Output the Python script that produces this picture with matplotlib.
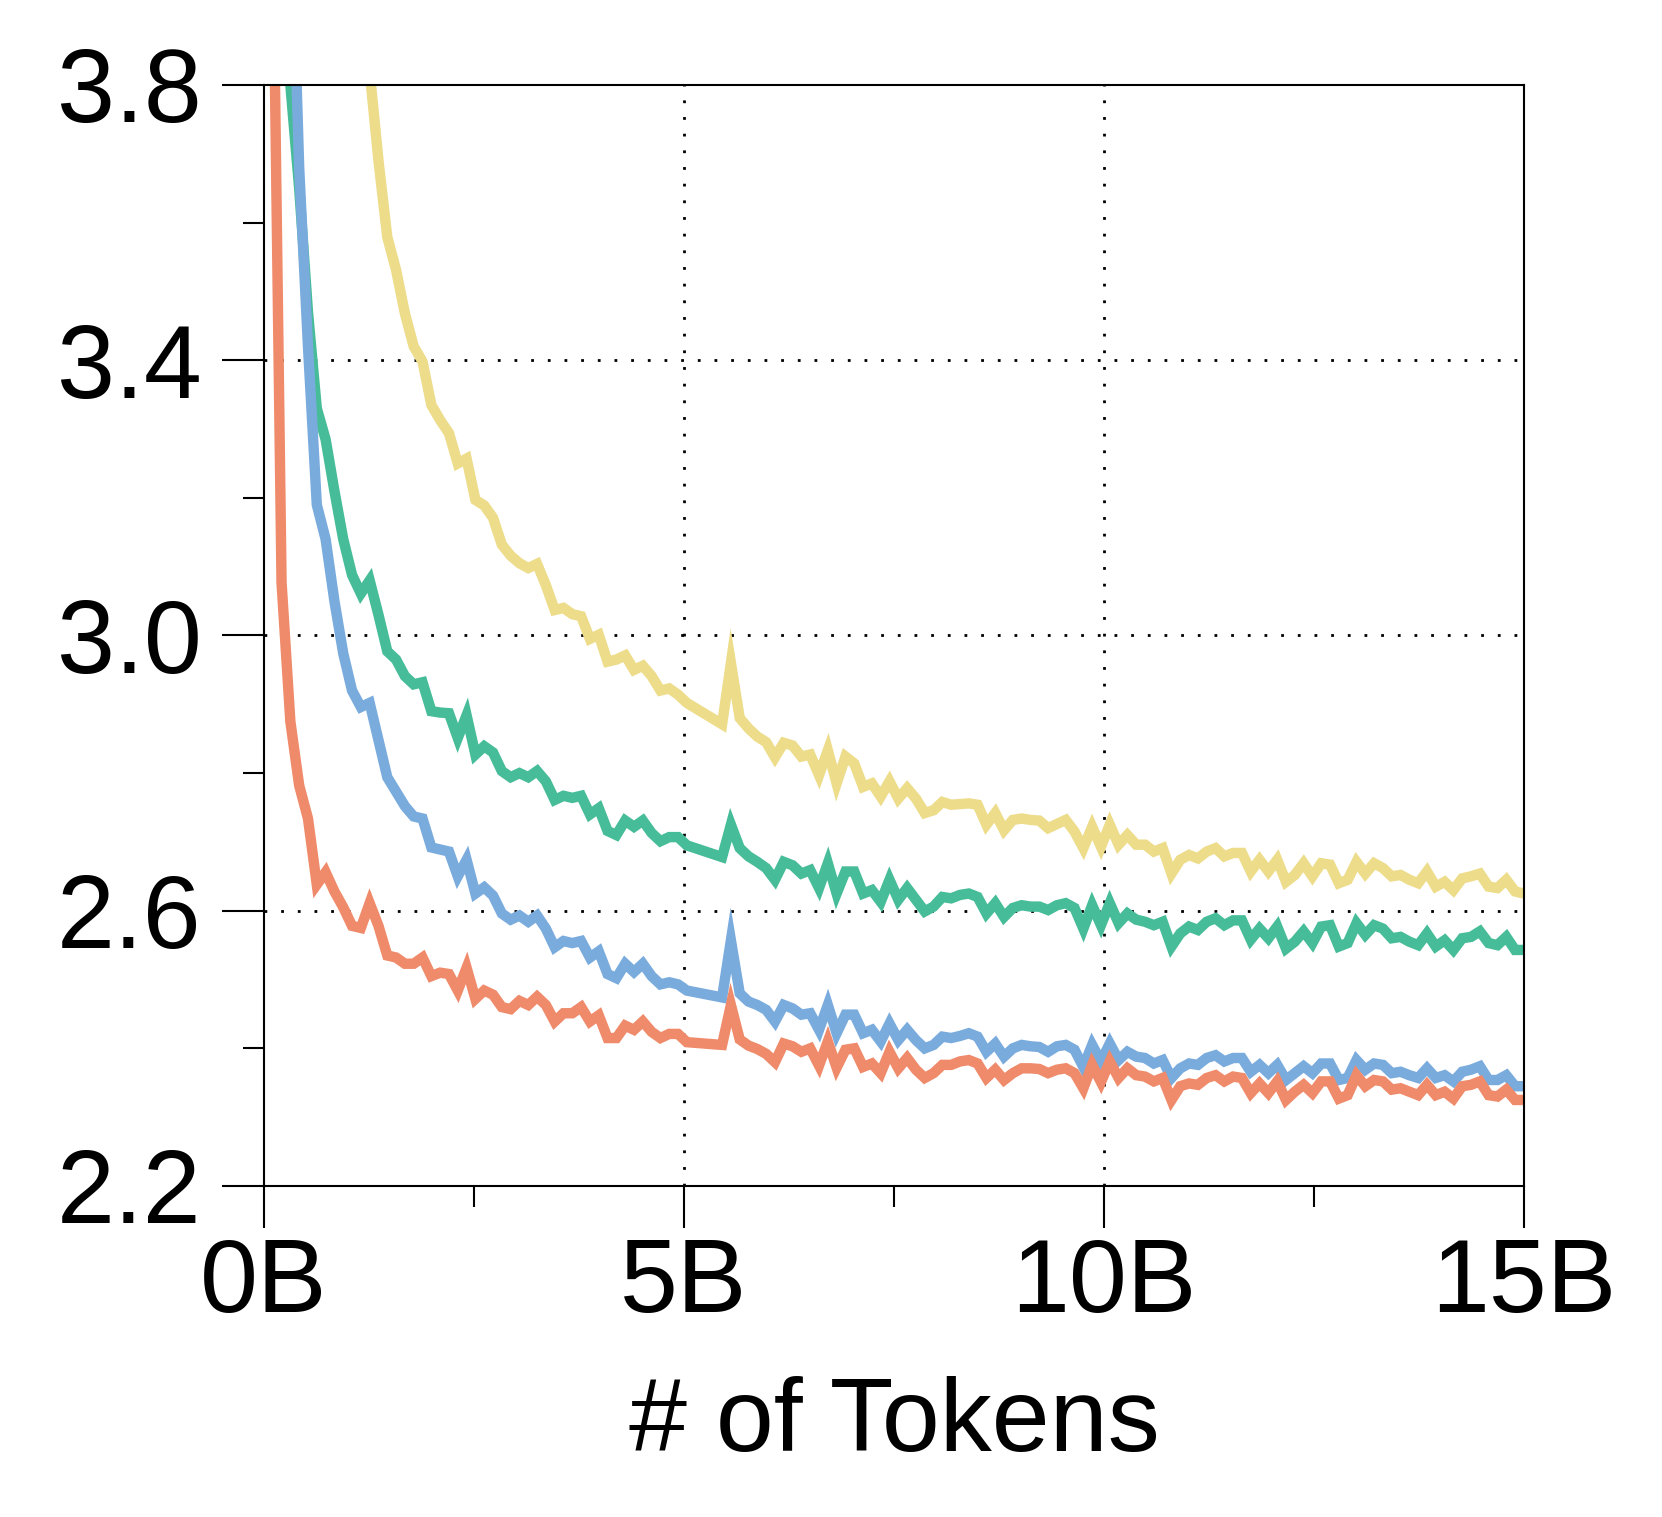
import numpy as np
import matplotlib.pyplot as plt

plt.rcParams['font.family'] = ['Liberation Sans', 'DejaVu Sans']

nan = np.nan

# checkpoint index -> tokens (B); checkpoints 49-51 are missing in the run
step = np.r_[1:49, 52:144]
tokens = step * 15 / 143

loss_yellow = [nan] * 11 + [
    3.82, 3.69, 3.579, 3.531, 3.468, 3.42, 3.398, 3.335, 3.313, 3.294,
    3.25, 3.257, 3.197, 3.189, 3.171, 3.132, 3.116, 3.105, 3.098, 3.104,
    3.073, 3.037, 3.04, 3.031, 3.028, 2.995, 3.001, 2.962, 2.965, 2.971,
    2.95, 2.956, 2.941, 2.92, 2.923, 2.914, 2.902,
    2.871, 2.96, 2.88, 2.865, 2.853, 2.845, 2.823, 2.844, 2.84, 2.824,
    2.827, 2.797, 2.833, 2.785, 2.824, 2.814, 2.78, 2.785, 2.766, 2.788,
    2.763, 2.778, 2.763, 2.742, 2.746, 2.758, 2.754, 2.755, 2.756, 2.754,
    2.725, 2.742, 2.717, 2.732, 2.734, 2.732, 2.731, 2.72, 2.726, 2.732,
    2.715, 2.691, 2.722, 2.693,
    2.725, 2.696, 2.71, 2.696, 2.696, 2.686, 2.691, 2.654, 2.674, 2.681,
    2.676, 2.686, 2.691, 2.679, 2.684, 2.684, 2.657, 2.674, 2.657, 2.674,
    2.642, 2.652, 2.669, 2.65, 2.669, 2.667, 2.64, 2.645, 2.671, 2.654,
    2.669, 2.662, 2.65, 2.652, 2.645, 2.64, 2.657, 2.635, 2.642, 2.63,
    2.647, 2.65, 2.654, 2.635, 2.633, 2.645, 2.628, 2.625]

loss_green = [
    nan, 4.3, 3.8, 3.65, 3.47, 3.33, 3.285, 3.21, 3.14, 3.088,
    3.061, 3.08, 3.03, 2.977, 2.965, 2.941, 2.929, 2.932, 2.89, 2.888,
    2.887, 2.851, 2.884, 2.827, 2.839, 2.83, 2.803, 2.794, 2.8, 2.794,
    2.803, 2.788, 2.761, 2.767, 2.764, 2.767, 2.74, 2.749, 2.716, 2.71,
    2.731, 2.722, 2.731, 2.713, 2.701, 2.707, 2.707, 2.695,
    2.678, 2.725, 2.691, 2.679, 2.671, 2.662, 2.645, 2.671, 2.666, 2.654,
    2.659, 2.633, 2.669, 2.625, 2.657, 2.657, 2.625, 2.63, 2.613, 2.645,
    2.616, 2.633, 2.616, 2.599, 2.606, 2.62, 2.618, 2.623, 2.625, 2.62,
    2.596, 2.611, 2.591, 2.604, 2.608, 2.606, 2.606, 2.601, 2.608, 2.611,
    2.604, 2.574, 2.608, 2.579,
    2.611, 2.582, 2.596, 2.587, 2.584, 2.579, 2.584, 2.548, 2.567, 2.577,
    2.572, 2.584, 2.589, 2.579, 2.586, 2.586, 2.558, 2.574, 2.56, 2.577,
    2.545, 2.555, 2.57, 2.553, 2.577, 2.579, 2.548, 2.553, 2.582, 2.565,
    2.579, 2.574, 2.56, 2.562, 2.555, 2.55, 2.567, 2.548, 2.557, 2.543,
    2.56, 2.562, 2.57, 2.553, 2.55, 2.562, 2.543, 2.543]

loss_blue = [
    nan, nan, 4.1, 3.68, 3.42, 3.19, 3.14, 3.05, 2.974, 2.92,
    2.896, 2.902, 2.848, 2.794, 2.773, 2.752, 2.737, 2.734, 2.692, 2.689,
    2.686, 2.65, 2.674, 2.625, 2.634, 2.622, 2.596, 2.587, 2.593, 2.584,
    2.593, 2.574, 2.547, 2.556, 2.553, 2.556, 2.532, 2.541, 2.508, 2.502,
    2.523, 2.511, 2.523, 2.505, 2.493, 2.496, 2.493, 2.484,
    2.474, 2.557, 2.48, 2.468, 2.463, 2.456, 2.439, 2.463, 2.458, 2.449,
    2.451, 2.427, 2.463, 2.422, 2.449, 2.449, 2.422, 2.427, 2.41, 2.436,
    2.412, 2.427, 2.412, 2.4, 2.405, 2.417, 2.415, 2.418, 2.422, 2.417,
    2.395, 2.407, 2.388, 2.4, 2.405, 2.403, 2.402, 2.395, 2.403, 2.405,
    2.398, 2.373, 2.405, 2.381,
    2.407, 2.383, 2.395, 2.388, 2.386, 2.378, 2.383, 2.357, 2.371, 2.378,
    2.376, 2.386, 2.39, 2.381, 2.386, 2.386, 2.366, 2.376, 2.364, 2.376,
    2.354, 2.364, 2.374, 2.364, 2.378, 2.378, 2.354, 2.357, 2.383, 2.369,
    2.378, 2.376, 2.364, 2.366, 2.361, 2.357, 2.371, 2.357, 2.361, 2.352,
    2.366, 2.369, 2.374, 2.354, 2.354, 2.361, 2.345, 2.345]

loss_red = [
    4.05, 3.077, 2.875, 2.782, 2.734, 2.638, 2.656, 2.628, 2.605, 2.578,
    2.575, 2.611, 2.578, 2.535, 2.532, 2.523, 2.523, 2.532, 2.505, 2.51,
    2.508, 2.484, 2.517, 2.472, 2.484, 2.478, 2.46, 2.457, 2.469, 2.463,
    2.475, 2.463, 2.439, 2.451, 2.451, 2.46, 2.439, 2.448, 2.415, 2.415,
    2.433, 2.427, 2.439, 2.424, 2.415, 2.421, 2.421, 2.409,
    2.405, 2.463, 2.413, 2.404, 2.399, 2.392, 2.38, 2.407, 2.403, 2.395,
    2.4, 2.375, 2.41, 2.372, 2.398, 2.4, 2.373, 2.378, 2.364, 2.395,
    2.371, 2.386, 2.369, 2.357, 2.364, 2.376, 2.376, 2.381, 2.383, 2.378,
    2.357, 2.369, 2.354, 2.364, 2.371, 2.371, 2.37, 2.364, 2.369, 2.371,
    2.364, 2.342, 2.376, 2.351,
    2.381, 2.357, 2.371, 2.361, 2.359, 2.352, 2.357, 2.325, 2.345, 2.349,
    2.347, 2.357, 2.361, 2.352, 2.359, 2.357, 2.335, 2.349, 2.335, 2.352,
    2.325, 2.337, 2.347, 2.335, 2.352, 2.352, 2.327, 2.332, 2.361, 2.345,
    2.354, 2.352, 2.34, 2.342, 2.337, 2.332, 2.347, 2.332, 2.337, 2.327,
    2.345, 2.347, 2.352, 2.332, 2.33, 2.34, 2.325, 2.325]

x_major = [0, 5, 10, 15]
x_labels = ['0B', '5B', '10B', '15B']
x_minor = [2.5, 7.5, 12.5]
y_major = [2.2, 2.6, 3.0, 3.4, 3.8]
y_minor = [2.4, 2.8, 3.2, 3.6]

colors = ['#EDDC8A', '#46BC98', '#7AABDD', '#EF8A6A']

fig = plt.figure(figsize=(16.62, 15.17), dpi=100)
ax = fig.add_axes([0.1588, 0.2182, 0.7581, 0.7258])

# dotted grid on interior major ticks only
for xv in x_major[1:-1]:
    ax.axvline(xv, color='black', lw=2, linestyle=(0, (1, 5)), zorder=1)
for yv in y_major[1:-1]:
    ax.axhline(yv, color='black', lw=2, linestyle=(0, (1, 5)), zorder=1)

for ys, c in zip([loss_yellow, loss_green, loss_blue, loss_red], colors):
    ax.plot(tokens, ys, color=c, lw=7.5, solid_joinstyle='miter', zorder=2)

ax.set_xlim(0, 15)
ax.set_ylim(2.2, 3.8)
ax.set_xticks(x_major)
ax.set_xticklabels(x_labels)
ax.set_xticks(x_minor, minor=True)
ax.set_yticks(y_major)
ax.set_yticklabels([f'{v:.1f}' for v in y_major])
ax.set_yticks(y_minor, minor=True)

ax.tick_params(which='both', direction='out', width=1.5, labelsize=75)
ax.tick_params(which='major', length=30)
ax.tick_params(which='minor', length=15)
ax.tick_params(axis='x', which='major', pad=7)
ax.tick_params(axis='y', which='major', pad=15)
for s in ax.spines.values():
    s.set_linewidth(1.5)

ax.set_xlabel('# of Tokens', fontsize=75, labelpad=30)

fig.savefig('out.png', dpi=100)
